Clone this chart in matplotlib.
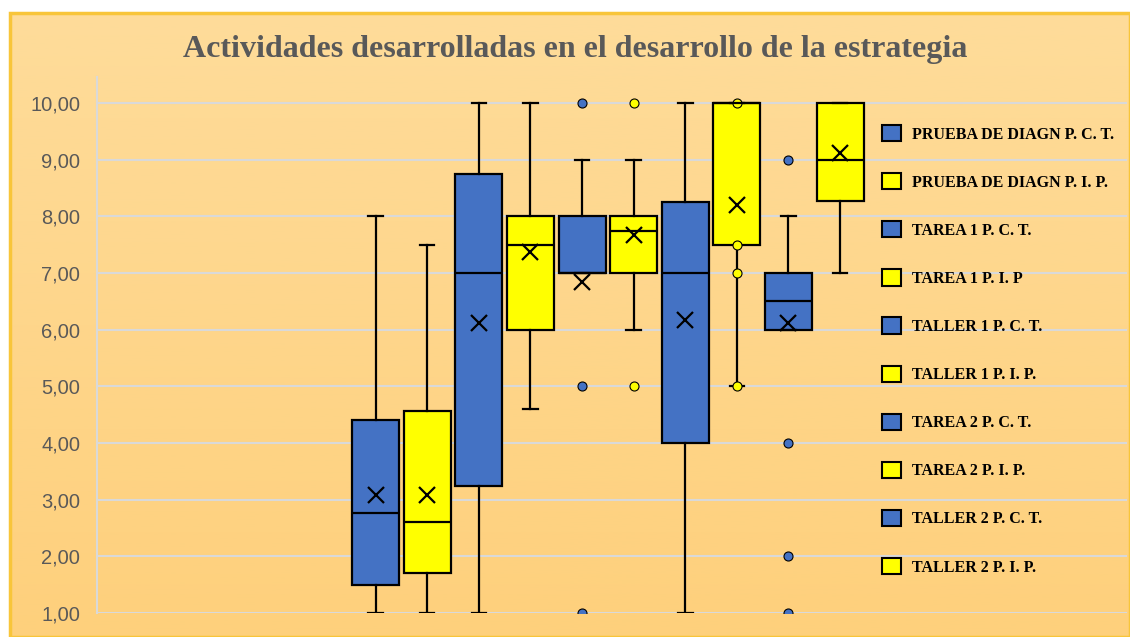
import numpy as np
import matplotlib.pyplot as plt
from matplotlib.patches import Patch, Rectangle

# series names (legend order = box order)
labels = ["PRUEBA DE DIAGN P. C. T.", "PRUEBA DE DIAGN P. I. P.",
          "TAREA 1 P. C. T.", "TAREA 1 P. I. P",
          "TALLER 1 P. C. T.", "TALLER 1 P. I. P.",
          "TAREA 2 P. C. T.", "TAREA 2 P. I. P.",
          "TALLER 2 P. C. T.", "TALLER 2 P. I. P."]
q1 = [1.5, 1.7, 3.25, 6.0, 7.0, 7.0, 4.0, 7.5, 6.0, 8.27]
medians = [2.76, 2.6, 7.0, 7.5, 7.0, 7.75, 7.0, 10.0, 6.5, 9.0]
q3 = [4.4, 4.57, 8.75, 8.0, 8.0, 8.0, 8.25, 10.0, 7.0, 10.0]
whislo = [1.0, 1.0, 1.0, 4.6, 7.0, 6.0, 1.0, 5.0, 6.0, 7.0]
whishi = [8.0, 7.5, 10.0, 10.0, 9.0, 9.0, 10.0, 10.0, 8.0, 10.0]
means = [3.08, 3.08, 6.12, 7.38, 6.85, 7.67, 6.18, 8.2, 6.12, 9.12]
fliers = [[], [], [], [], [10, 5, 1], [10, 5], [], [10, 7.5, 7, 5], [9, 4, 2, 1], []]
yticks = [1, 2, 3, 4, 5, 6, 7, 8, 9, 10]

blue = "#4472C4"
yellow = "#FFFF00"
colors = [blue if i % 2 == 0 else yellow for i in range(len(labels))]

fig = plt.figure(figsize=(11.3, 6.37), dpi=100)

# chart background with gradient + gold border
bg = fig.add_axes([10 / 1130, 0, 1 - 10 / 1130, 1 - 13 / 637])
grad = np.linspace(0, 1, 256).reshape(-1, 1)
top_c = np.array([0xFE, 0xDC, 0x9A]) / 255
bot_c = np.array([0xFE, 0xD0, 0x7C]) / 255
img = top_c + (bot_c - top_c) * grad[:, :, None]
bg.imshow(img, aspect="auto", extent=[0, 1, 0, 1])
bg.set_xlim(0, 1)
bg.set_ylim(0, 1)
bg.axis("off")
bg.add_patch(Rectangle((0, 0), 1, 1, fill=False, edgecolor="#F8C53A", lw=2.5,
                       transform=bg.transAxes, clip_on=False))

ax = fig.add_axes([97 / 1130, 1 - 613 / 637, (1127 - 97) / 1130, (613 - 77) / 637])
ax.patch.set_alpha(0)

stats = []
for i in range(len(labels)):
    stats.append(dict(q1=q1[i], med=medians[i], q3=q3[i], whislo=whislo[i],
                      whishi=whishi[i], mean=means[i], fliers=fliers[i]))

pos = np.arange(len(labels))
bp = ax.bxp(stats, positions=pos, widths=0.91, capwidths=0.28, patch_artist=True,
            showmeans=True, showfliers=True,
            boxprops=dict(edgecolor="black", linewidth=1.6),
            medianprops=dict(color="black", linewidth=1.6),
            whiskerprops=dict(color="black", linewidth=1.6),
            capprops=dict(color="black", linewidth=1.6),
            meanprops=dict(marker="x", markeredgecolor="black", markersize=12,
                           markeredgewidth=1.6),
            flierprops=dict(marker="o", markersize=6.5, markeredgecolor="black",
                            markeredgewidth=0.8))
for box, c in zip(bp["boxes"], colors):
    box.set_facecolor(c)
for fl, c in zip(bp["fliers"], colors):
    fl.set_markerfacecolor(c)
    fl.set_clip_on(True)
    fl.set_clip_path(ax.patch)

ax.set_xlim(-5.40, 14.56)
ax.set_ylim(1, 10.46)
ax.set_yticks(yticks)
ax.set_yticklabels([f"{v:.2f}".replace(".", ",") for v in yticks],
                   fontfamily="Liberation Sans", fontsize=14.5, color="#595959")
ax.tick_params(axis="y", length=0, pad=12)
ax.tick_params(axis="x", bottom=False, labelbottom=False)
ax.grid(axis="y", color="#D9D9D9", linewidth=1.5, zorder=0)
ax.set_axisbelow(True)
for s in ["top", "right", "bottom"]:
    ax.spines[s].set_visible(False)
ax.spines["left"].set_color("#D9D9D9")
ax.spines["left"].set_linewidth(1.5)

handles = [Patch(facecolor=c, edgecolor="black", linewidth=1.5) for c in colors]
ax.legend(handles, labels, loc="upper left", bbox_to_anchor=(882 / 1130, 1 - 125 / 637),
          bbox_transform=fig.transFigure, frameon=False, borderpad=0, borderaxespad=0,
          handlelength=1.19, handleheight=1.19, handletextpad=0.7, labelspacing=1.915,
          prop=dict(family="Liberation Serif", weight="bold", size=11.5))

fig.text(575 / 1130, 1 - 49 / 637, "Actividades desarrolladas en el desarrollo de la estrategia",
         ha="center", va="center", fontfamily="Liberation Serif", fontweight="bold",
         fontsize=23, color="#595959")

fig.savefig("out.png", dpi=100, facecolor="white")
